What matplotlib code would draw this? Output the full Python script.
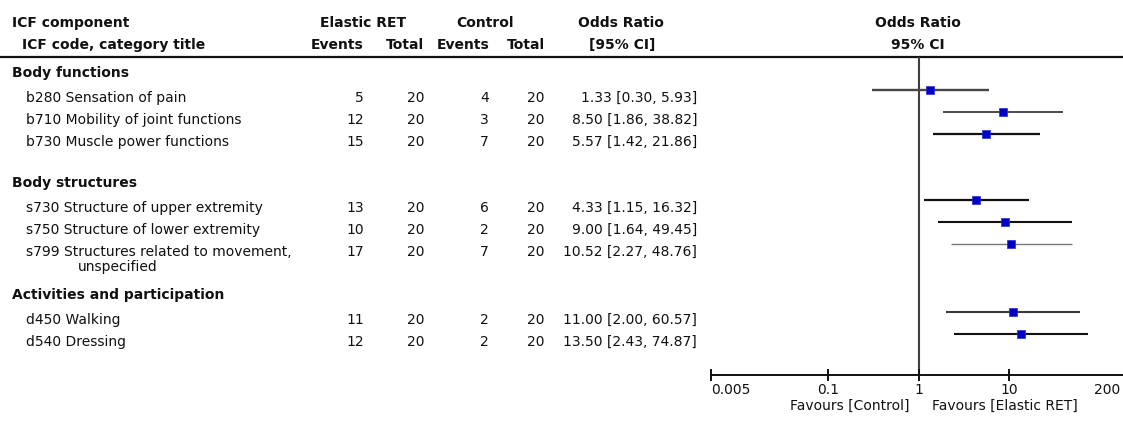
import matplotlib
matplotlib.use("Agg")
import matplotlib.pyplot as plt
from matplotlib.transforms import ScaledTranslation

# ---- data -------------------------------------------------------------
sections = ["Body functions", "Body structures", "Activities and participation"]
item_section = [0, 0, 0, 1, 1, 1, 2, 2]
item_labels = [
    "b280 Sensation of pain",
    "b710 Mobility of joint functions",
    "b730 Muscle power functions",
    "s730 Structure of upper extremity",
    "s750 Structure of lower extremity",
    "s799 Structures related to movement,\nunspecified",
    "d450 Walking",
    "d540 Dressing",
]
elastic_events = [5, 12, 15, 13, 10, 17, 11, 12]
elastic_total = [20, 20, 20, 20, 20, 20, 20, 20]
control_events = [4, 3, 7, 6, 2, 7, 2, 2]
control_total = [20, 20, 20, 20, 20, 20, 20, 20]
odds_ratio = [1.33, 8.50, 5.57, 4.33, 9.00, 10.52, 11.00, 13.50]
ci_low = [0.30, 1.86, 1.42, 1.15, 1.64, 2.27, 2.00, 2.43]
ci_high = [5.93, 38.82, 21.86, 16.32, 49.45, 48.76, 60.57, 74.87]
axis_ticks = [0.005, 0.1, 1, 10, 200]
axis_tick_labels = ["0.005", "0.1", "1", "10", "200"]

# ---- styling ----------------------------------------------------------
ci_colors = ["#474747", "#2e2e2e", "#111111", "#111111", "#111111", "#7a7a7a", "#3a3a3a", "#111111"]
ci_widths = [1.7, 1.2, 1.6, 1.6, 1.5, 1.0, 1.5, 1.5]
marker_color = "#0000c4"
text_color = "#111111"
FS = 10
plt.rcParams["font.family"] = ["DejaVu Sans"]

W, H = 1123, 424
fig = plt.figure(figsize=(W / 100, H / 100), dpi=100)

# text layer in pixel coordinates (origin top-left)
ax_t = fig.add_axes([0, 0, 1, 1])
ax_t.set_xlim(0, W)
ax_t.set_ylim(H, 0)
ax_t.axis("off")

def put(x, y, s, ha="left", bold=False, **kw):
    ax_t.text(x, y, s, ha=ha, va="center", fontsize=FS, color=text_color,
              fontweight="bold" if bold else "normal", **kw)

# column anchors (right edges)
col_ee, col_et, col_ce, col_ct, col_or = 364, 424, 489, 545, 697
plot_left, plot_right = 710.7, 1127.0
axis_y, header_line_y = 375, 57
x_one = 918.3

# header
put(12, 23, "ICF component", bold=True)
put(22, 45, "ICF code, category title", bold=True)
put(363, 23, "Elastic RET", ha="center", bold=True)
put(485, 23, "Control", ha="center", bold=True)
for x, s in [(col_ee, "Events"), (col_et, "Total"), (col_ce, "Events"), (col_ct, "Total")]:
    put(x, 45, s, ha="right", bold=True)
put(621, 23, "Odds Ratio", ha="center", bold=True)
put(622, 45, "[95% CI]", ha="center", bold=True)
put(x_one, 23, "Odds Ratio", ha="center", bold=True)
put(x_one, 45, "95% CI", ha="center", bold=True)
ax_t.plot([0, W], [header_line_y, header_line_y], color="#111111", lw=1.6, solid_capstyle="butt")

# row layout
row_y = []
y = 73
for s_idx, name in enumerate(sections):
    put(12, y, name, bold=True)
    y += 25
    for i, sec in enumerate(item_section):
        if sec != s_idx:
            continue
        row_y.append(y)
        lines = item_labels[i].split("\n")
        put(26, y, lines[0])
        for k, extra in enumerate(lines[1:], start=1):
            put(78, y + 15 * k, extra)
        put(col_ee, y, str(elastic_events[i]), ha="right")
        put(col_et, y, str(elastic_total[i]), ha="right")
        put(col_ce, y, str(control_events[i]), ha="right")
        put(col_ct, y, str(control_total[i]), ha="right")
        put(col_or, y, f"{odds_ratio[i]:.2f} [{ci_low[i]:.2f}, {ci_high[i]:.2f}]", ha="right")
        y += 22 + 2 * (len(lines) - 1)
    y += 19

# forest plot panel
ax = fig.add_axes([plot_left / W, (H - axis_y) / H,
                   (plot_right - plot_left) / W, (axis_y - header_line_y) / H])
ax.patch.set_alpha(0)
ax.set_xscale("log")
ax.set_xlim(axis_ticks[0], axis_ticks[-1])
ax.set_ylim(axis_y, header_line_y)
for sp in ("top", "left", "right"):
    ax.spines[sp].set_visible(False)
ax.spines["bottom"].set_linewidth(1.4)
ax.spines["bottom"].set_color("#111111")
ax.set_yticks([])
ax.set_xticks(axis_ticks)
ax.set_xticklabels(axis_tick_labels)
ax.xaxis.set_minor_locator(matplotlib.ticker.NullLocator())
ax.tick_params(axis="x", direction="inout", length=8, width=1.4, pad=2,
               labelsize=FS, colors="#111111")
tl = ax.get_xticklabels()
tl[0].set_ha("left")
tl[-1].set_ha("right")
# pull the last label back inside the canvas edge
tl[-1].set_transform(tl[-1].get_transform() + ScaledTranslation(-7 / 100, 0, fig.dpi_scale_trans))

ax.axvline(1, color="#3f3f3f", lw=1.5, zorder=1)
for i, yy in enumerate(row_y):
    ym = yy - 8
    ax.plot([ci_low[i], ci_high[i]], [ym, ym], color=ci_colors[i], lw=ci_widths[i],
            solid_capstyle="butt", zorder=2)
    ax.plot(odds_ratio[i], ym, marker="s", ms=6.4, color=marker_color,
            mec="#2a2ae0", mew=0.5, zorder=3, clip_on=False)

put(909, 406, "Favours [Control]", ha="right")
put(932, 406, "Favours [Elastic RET]", ha="left")

fig.savefig("out.png", dpi=100)
